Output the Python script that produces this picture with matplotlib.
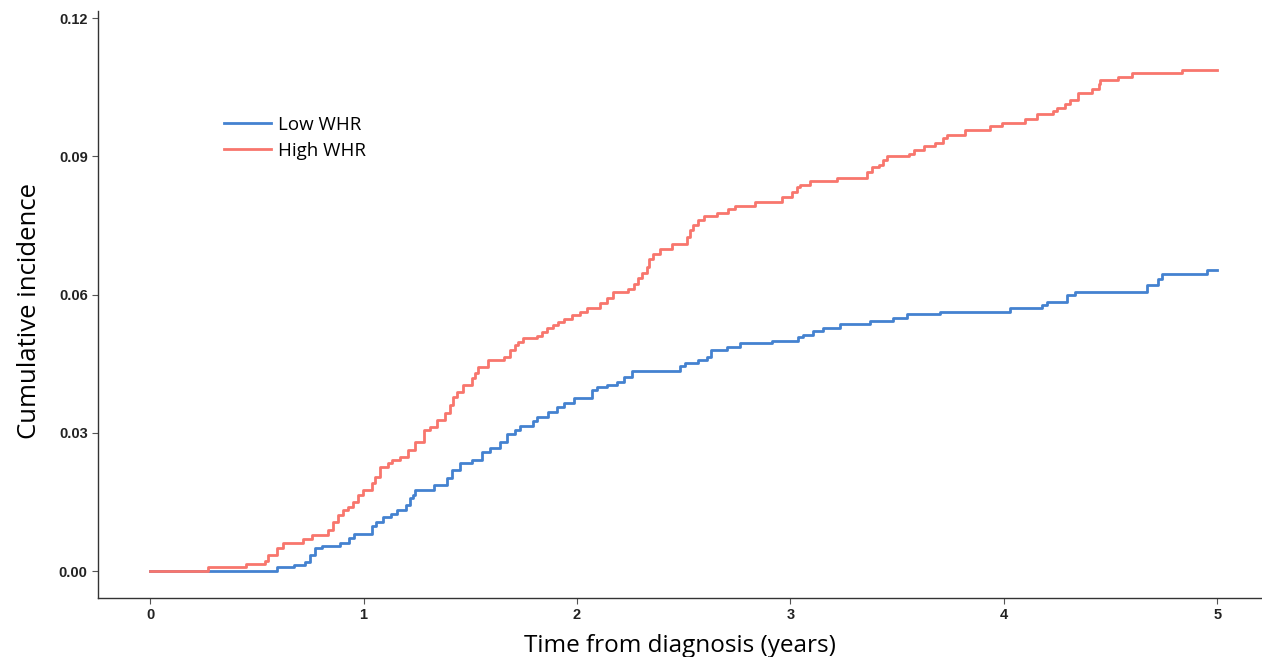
import matplotlib
matplotlib.use('Agg')
import matplotlib.pyplot as plt

# step points: (time in years, cumulative incidence)
high_t = [0, 0.272, 0.45, 0.539, 0.553, 0.594, 0.623, 0.717, 0.758, 0.834, 0.858,
          0.881, 0.904, 0.928, 0.951, 0.975, 0.998, 1.039, 1.054, 1.078, 1.115,
          1.133, 1.171, 1.207, 1.242, 1.281, 1.312, 1.343, 1.382, 1.406, 1.421,
          1.437, 1.468, 1.507, 1.523, 1.538, 1.585, 1.656, 1.687, 1.710, 1.726,
          1.749, 1.812, 1.835, 1.859, 1.890, 1.913, 1.937, 1.976, 2.015, 2.046,
          2.109, 2.140, 2.171, 2.241, 2.265, 2.288, 2.304, 2.328, 2.338, 2.358,
          2.390, 2.445, 2.515, 2.530, 2.546, 2.569, 2.593, 2.656, 2.710, 2.741,
          2.835, 2.960, 3.007, 3.030, 3.046, 3.093, 3.218, 3.358, 3.382, 3.413,
          3.436, 3.452, 3.557, 3.580, 3.624, 3.678, 3.717, 3.733, 3.819, 3.936,
          3.991, 4.100, 4.155, 4.233, 4.249, 4.288, 4.311, 4.350, 4.413, 4.444,
          4.452, 4.537, 4.600, 4.835, 4.998]
high_v = [0, 0.0008, 0.0015, 0.0022, 0.0035, 0.0049, 0.0060, 0.0069, 0.0078, 0.0089, 0.0107,
          0.0122, 0.0132, 0.0140, 0.0150, 0.0165, 0.0176, 0.0190, 0.0205, 0.0226, 0.0234,
          0.0240, 0.0248, 0.0263, 0.0280, 0.0306, 0.0313, 0.0328, 0.0342, 0.0360, 0.0378,
          0.0389, 0.0404, 0.0418, 0.0429, 0.0442, 0.0458, 0.0465, 0.0480, 0.0490, 0.0498,
          0.0505, 0.0510, 0.0519, 0.0527, 0.0534, 0.0541, 0.0548, 0.0556, 0.0563, 0.0572,
          0.0581, 0.0592, 0.0606, 0.0613, 0.0624, 0.0635, 0.0646, 0.0660, 0.0678, 0.0688,
          0.0700, 0.0709, 0.0725, 0.0740, 0.0751, 0.0763, 0.0771, 0.0778, 0.0786, 0.0793,
          0.0800, 0.0812, 0.0823, 0.0833, 0.0839, 0.0846, 0.0854, 0.0867, 0.0878, 0.0881,
          0.0892, 0.0900, 0.0906, 0.0914, 0.0922, 0.0929, 0.0939, 0.0947, 0.0957, 0.0966,
          0.0973, 0.0982, 0.0992, 0.0999, 0.1006, 0.1013, 0.1022, 0.1038, 0.1047, 0.1058,
          0.1066, 0.1073, 0.1080, 0.1087, 0.1087]

low_t = [0, 0.594, 0.672, 0.726, 0.750, 0.773, 0.805, 0.890, 0.930, 0.953, 1.040,
         1.060, 1.093, 1.130, 1.156, 1.200, 1.218, 1.230, 1.242, 1.328, 1.390,
         1.414, 1.453, 1.507, 1.554, 1.593, 1.640, 1.671, 1.710, 1.734, 1.796,
         1.812, 1.866, 1.906, 1.937, 1.984, 2.070, 2.093, 2.140, 2.187, 2.222,
         2.257, 2.484, 2.507, 2.569, 2.609, 2.627, 2.702, 2.765, 2.913, 3.038,
         3.061, 3.108, 3.155, 3.233, 3.374, 3.483, 3.546, 3.702, 4.030, 4.179,
         4.202, 4.296, 4.335, 4.671, 4.725, 4.741, 4.952, 4.998]
low_v = [0, 0.0008, 0.0013, 0.0020, 0.0035, 0.0049, 0.0054, 0.0060, 0.0071, 0.0080, 0.0098,
         0.0107, 0.0117, 0.0124, 0.0132, 0.0143, 0.0158, 0.0165, 0.0176, 0.0187, 0.0201,
         0.0219, 0.0235, 0.0241, 0.0259, 0.0268, 0.0280, 0.0297, 0.0306, 0.0315, 0.0326,
         0.0335, 0.0346, 0.0357, 0.0365, 0.0375, 0.0393, 0.0399, 0.0404, 0.0411, 0.0422,
         0.0435, 0.0445, 0.0451, 0.0458, 0.0465, 0.0480, 0.0487, 0.0494, 0.0500, 0.0507,
         0.0512, 0.0521, 0.0528, 0.0536, 0.0543, 0.0550, 0.0558, 0.0563, 0.0570, 0.0577,
         0.0584, 0.0600, 0.0606, 0.0621, 0.0633, 0.0645, 0.0653, 0.0653]

x_ticks = [0, 1, 2, 3, 4, 5]
y_ticks = [0.00, 0.03, 0.06, 0.09, 0.12]

blue = '#4482d0'
red = '#f8766d'

fig = plt.figure(figsize=(12.62, 6.57), dpi=100)
ax = fig.add_axes([0.0777, 0.0898, 0.9223, 0.893])

ax.step(low_t, low_v, where='post', color=blue, lw=2.0, label='Low WHR')
ax.step(high_t, high_v, where='post', color=red, lw=2.0, label='High WHR')

ax.set_xlim(-0.244, 5.21)
ax.set_ylim(-0.00586, 0.1215)
ax.set_xticks(x_ticks)
ax.set_yticks(y_ticks)
ax.set_xticklabels([str(t) for t in x_ticks])
ax.set_yticklabels(['%.2f' % t for t in y_ticks])

for s in ['top', 'right']:
    ax.spines[s].set_visible(False)
for s in ['left', 'bottom']:
    ax.spines[s].set_color('#333333')
    ax.spines[s].set_linewidth(1.0)
ax.tick_params(length=4, width=0.8, color='#555555', labelsize=10.5, labelcolor='#222222')
for lab in ax.get_xticklabels() + ax.get_yticklabels():
    lab.set_fontweight('bold')
    lab.set_family('Liberation Sans')

ax.set_xlabel('Time from diagnosis (years)', fontsize=17.5, family='Open Sans', labelpad=8)
ax.set_ylabel('Cumulative incidence', fontsize=18.5, family='Open Sans')
ax.yaxis.set_label_coords(-0.048, 0.489)

ax.legend(loc='upper left', bbox_to_anchor=(0.102, 0.835), frameon=False,
          prop={'family': 'Open Sans', 'size': 13.5}, handlelength=2.5,
          handletextpad=0.35, labelspacing=0.45, borderaxespad=0)

plt.savefig('out.png', dpi=100)
